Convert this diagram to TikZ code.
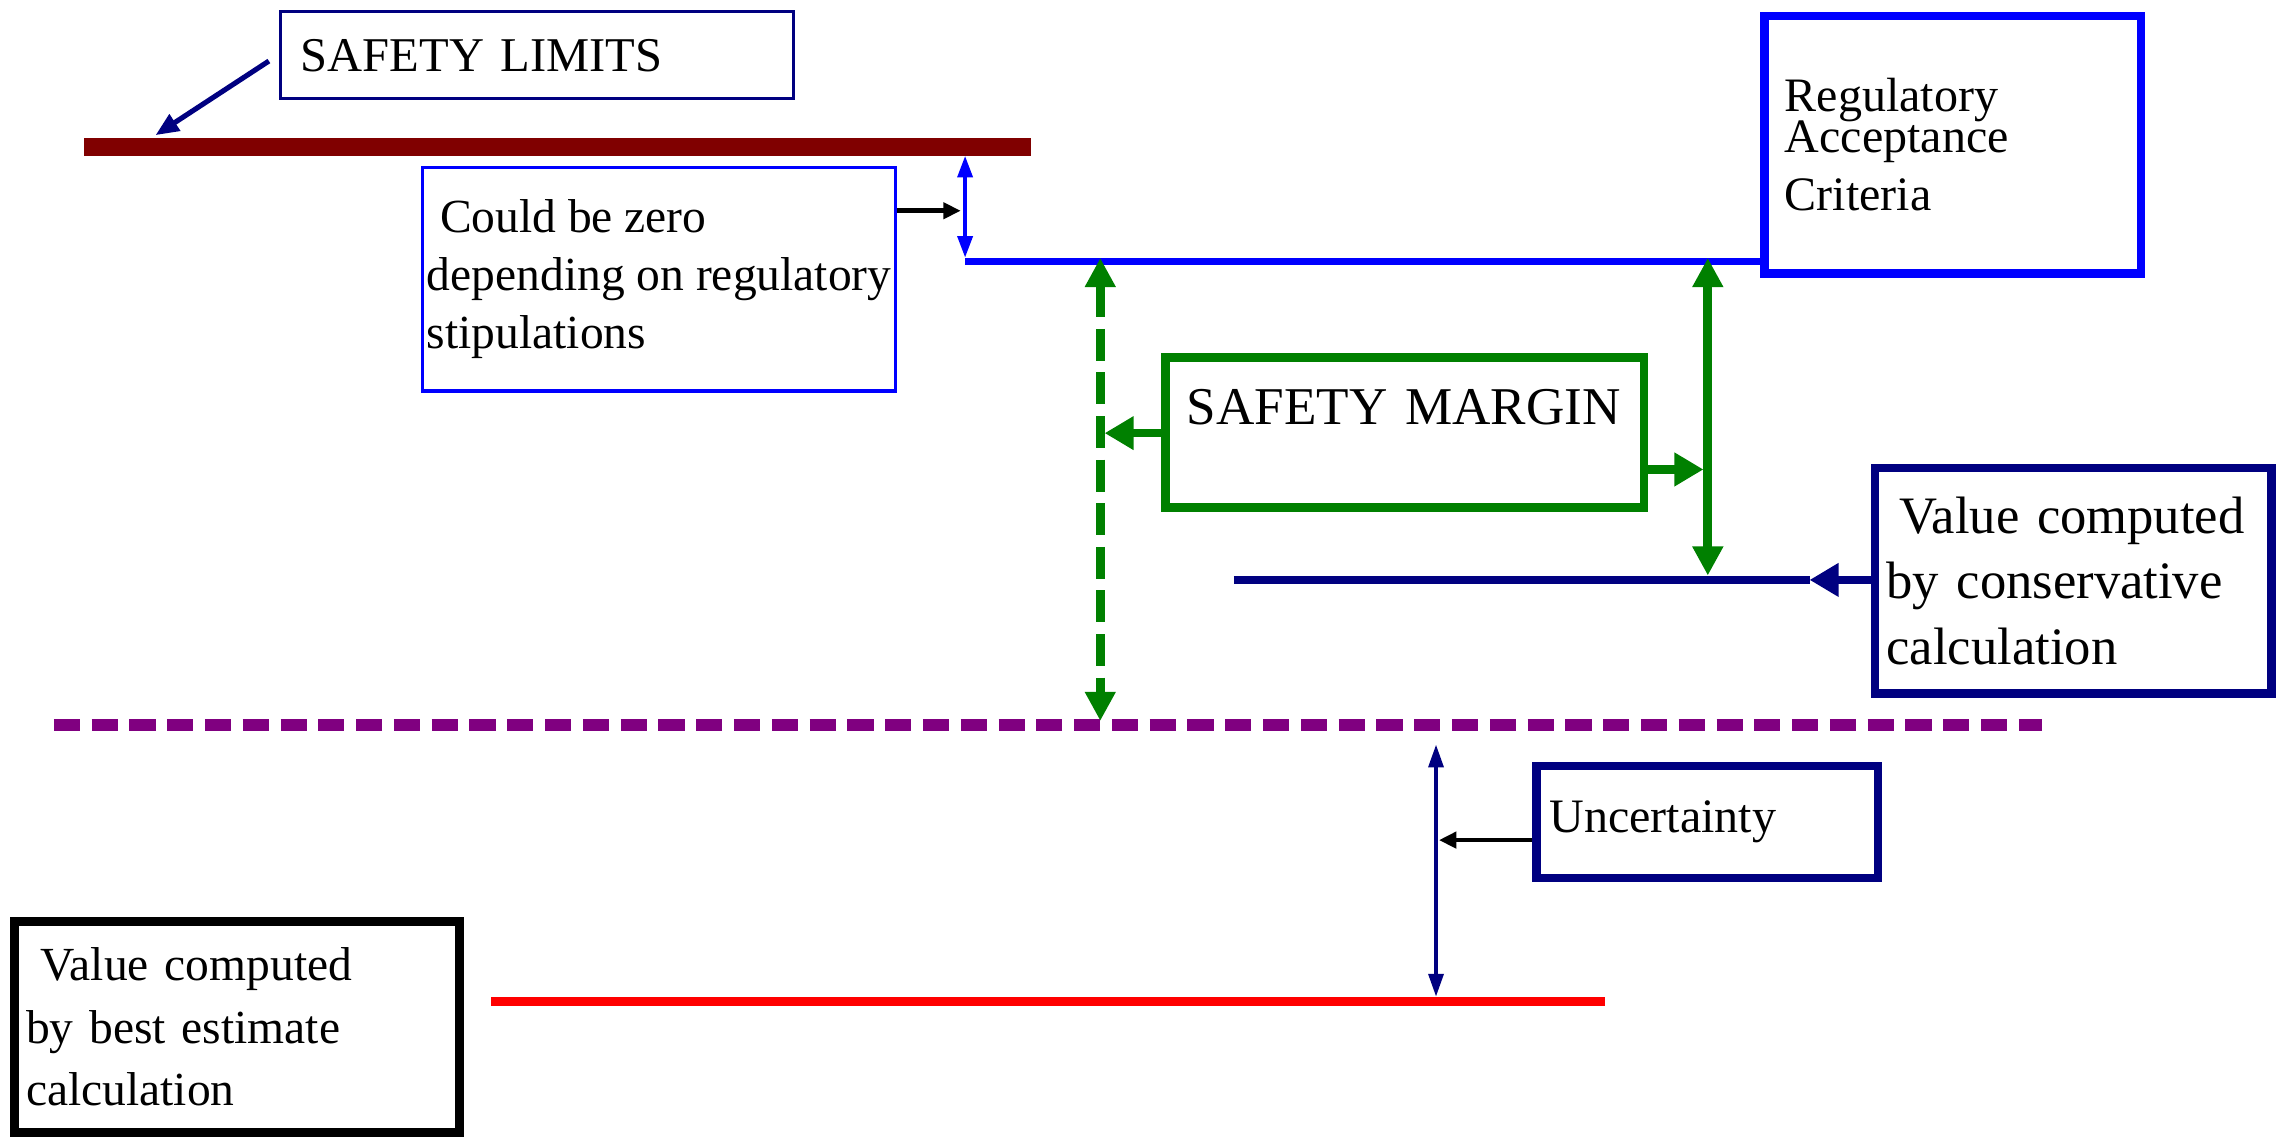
\documentclass[tikz,border=0pt]{standalone}
\usepackage{fontspec}
\setmainfont{Liberation Serif}
\usepackage{xcolor}
\usetikzlibrary{arrows.meta, positioning, calc}
\definecolor{navyblue}{RGB}{0,0,128}
\definecolor{limitred}{RGB}{128,0,0}
\definecolor{margingreen}{RGB}{0,128,0}
\definecolor{uncpurple}{RGB}{128,0,128}
\definecolor{racblue}{RGB}{0,0,255}
\definecolor{bestred}{RGB}{255,0,0}

\begin{document}
\begin{tikzpicture}[
    every node/.style={align=left, text=black},
    thinbox/.style={draw, line width=0.6pt},
    thickbox/.style={draw, line width=1.7pt},
    level/.style={line width=1.7pt},
    bigtip/.style={-{Triangle[length=0.2cm, width=0.22cm]}, line width=1.7pt},
    bothtips/.style={{Triangle[length=0.2cm, width=0.2cm]}-{Triangle[length=0.2cm, width=0.2cm]}, line width=1.8pt},
    thintips/.style={{Triangle[length=0.15cm, width=0.1cm]}-{Triangle[length=0.15cm, width=0.1cm]}, line width=0.9pt},
    pointer/.style={-{Triangle[length=0.12cm, width=0.11cm]}, line width=0.9pt, black}
]
    \useasboundingbox (0,0) rectangle (15.68,7.82);

    % Boxes
    \node[thinbox, draw=navyblue, minimum width=3.53cm, minimum height=0.6cm, text width=3.25cm, inner xsep=0.14cm, font=\fontsize{9.5}{11.4}\selectfont] (limits) at (3.695,7.44) {SAFETY LIMITS};
    \node[thinbox, draw=racblue, minimum width=3.25cm, minimum height=1.54cm, inner xsep=0.02cm, font=\fontsize{9.3}{11.4}\selectfont] (zero) at (4.535,5.90) {\hspace*{0.09cm}Could be zero\\depending on regulatory\\stipulations};
    \node[thickbox, draw=racblue, minimum width=2.59cm, minimum height=1.77cm, text width=2.31cm, inner xsep=0.14cm, font=\fontsize{9.4}{11.4}\selectfont] (rac) at (13.435,6.825) {Regulatory\\[-3.4pt]Acceptance\\Criteria};
    \node[thickbox, draw=margingreen, minimum width=3.29cm, minimum height=1.03cm, text width=3.0cm, inner xsep=0.145cm, inner ysep=0.19cm, text height=0.25cm, text depth=0.36cm, font=\fontsize{10.4}{12}\selectfont] (margin) at (9.665,4.845) {SAFETY MARGIN};
    \node[thickbox, draw=navyblue, minimum width=2.73cm, minimum height=1.55cm, text width=2.57cm, inner xsep=0.08cm, font=\fontsize{10.3}{12.8}\selectfont] (cons) at (14.265,3.825) {\hspace*{0.09cm}Value computed\\by conservative\\calculation};
    \node[thickbox, draw=navyblue, minimum width=2.35cm, minimum height=0.77cm, text width=2.17cm, inner xsep=0.09cm, font=\fontsize{9.4}{11.4}\selectfont] (unc) at (11.745,2.165) {Uncertainty};
    \node[thickbox, draw=black, minimum width=3.06cm, minimum height=1.45cm, text width=2.9cm, inner xsep=0.08cm, font=\fontsize{9.3}{12.2}\selectfont] (best) at (1.63,0.755) {\hspace*{0.1cm}Value computed\\by best estimate\\calculation};

    % Level lines
    \coordinate (barL) at (0.58,6.81);
    \coordinate (barR) at (7.09,6.81);
    \coordinate (racL) at (6.64,6.02);
    \coordinate (consL) at (8.49,3.83);
    \coordinate (consR) at (12.45,3.83);
    \coordinate (uncL) at (0.37,2.83);
    \coordinate (uncR) at (14.05,2.83);
    \coordinate (bestL) at (3.38,0.93);
    \coordinate (bestR) at (11.04,0.93);
    \draw[limitred, line width=0.12cm] (barL) -- (barR);
    \draw[racblue, line width=1.5pt] (racL) -- (racL -| rac.west);
    \draw[level, navyblue] (consL) -- (consR);
    \draw[uncpurple, line width=0.08cm, dash pattern=on 0.18cm off 0.08cm] (uncL) -- (uncR);
    \draw[level, bestred] (bestL) -- (bestR);

    % Margins
    \coordinate (gapT) at (6.64,6.75);
    \coordinate (gapB) at (6.64,6.045);
    \coordinate (gapM) at (6.61,6.37);
    \draw[thintips, racblue] (gapT) -- (gapB);
    \draw[pointer] (zero.east |- gapM) -- (gapM);

    \coordinate (smT) at (7.57,6.045);
    \coordinate (smB) at (7.57,2.86);
    \coordinate (smM) at (7.60,4.84);
    \draw[bothtips, margingreen, dash pattern=on 0.22cm off 0.08cm] (smT) -- (smB);
    \draw[bigtip, margingreen] (margin.west |- smM) -- (smM);

    \coordinate (cmT) at (11.75,6.045);
    \coordinate (cmB) at (11.75,3.86);
    \coordinate (cmM) at (11.72,4.59);
    \draw[bothtips, margingreen] (cmT) -- (cmB);
    \draw[bigtip, margingreen] (margin.east |- cmM) -- (cmM);

    \draw[bigtip, navyblue] (cons.west |- consR) -- (consR);

    \coordinate (uT) at (9.88,2.70);
    \coordinate (uB) at (9.88,0.96);
    \coordinate (uM) at (9.90,2.04);
    \draw[thintips, navyblue, {Triangle[length=0.16cm, width=0.1cm]}-{Triangle[length=0.16cm, width=0.1cm]}] (uT) -- (uB);
    \draw[pointer] (unc.west |- uM) -- (uM);

    % Limits label arrow
    \coordinate (limA) at (1.85,7.40);
    \coordinate (limB) at (1.07,6.89);
    \draw[navyblue, line width=1pt, -{Triangle[length=0.16cm, width=0.13cm]}] (limA) -- (limB);
\end{tikzpicture}
\end{document}
